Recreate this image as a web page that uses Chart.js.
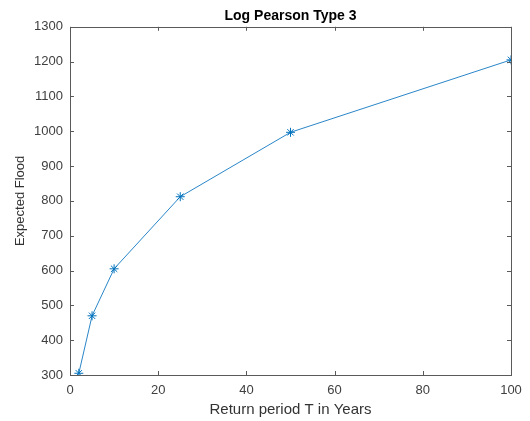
<!DOCTYPE html>
<html>
<head>
<meta charset="utf-8">
<script src="https://cdn.jsdelivr.net/npm/chart.js"></script>
<style>
  html, body { margin: 0; padding: 0; background: #fff; }
  #wrap { width: 530px; height: 421px; }
</style>
</head>
<body>
<div id="wrap"><canvas id="myChart" width="530" height="421"></canvas></div>

<script>
    // datos
    var returnPeriods = [2, 5, 10, 25, 50, 100];
    var expectedFlood = [305, 470, 605, 812, 997, 1205];
    var xTicks = [0, 20, 40, 60, 80, 100];
    var yTicks = [300, 400, 500, 600, 700, 800, 900, 1000, 1100, 1200, 1300];

    var points = returnPeriods.map(function(x, i) { return { x: x, y: expectedFlood[i] }; });

    // caja completa y marcas hacia dentro, estilo MATLAB
    var boxTicks = {
        id: 'boxTicks',
        afterDraw: function(chart) {
            var ctx = chart.ctx, a = chart.chartArea;
            var xs = chart.scales.x, ys = chart.scales.y;
            ctx.save();
            ctx.strokeStyle = '#5a5a5a';
            ctx.lineWidth = 1;
            ctx.strokeRect(Math.round(a.left) + 0.5, Math.round(a.top) + 0.5,
                Math.round(a.right - a.left), Math.round(a.bottom - a.top));
            ctx.beginPath();
            xTicks.forEach(function(v) {
                var px = Math.round(xs.getPixelForValue(v)) + 0.5;
                ctx.moveTo(px, a.bottom); ctx.lineTo(px, a.bottom - 4);
                ctx.moveTo(px, a.top); ctx.lineTo(px, a.top + 4);
            });
            yTicks.forEach(function(v) {
                var py = Math.round(ys.getPixelForValue(v)) + 0.5;
                ctx.moveTo(a.left, py); ctx.lineTo(a.left + 4, py);
                ctx.moveTo(a.right, py); ctx.lineTo(a.right - 4, py);
            });
            ctx.stroke();
            ctx.restore();
        }
    };

    var ctx = document.getElementById('myChart').getContext('2d');
    var myChart = new Chart(ctx, {
        type: 'line',
        data: {
            datasets: [{
                data: points,
                borderColor: '#2a86c8',
                borderWidth: 1,
                pointStyle: 'star',
                pointRadius: 4.5,
                pointBorderColor: '#0072BD',
                pointBorderWidth: 1,
                tension: 0
            }]
        },
        options: {
            responsive: false,
            animation: false,
            layout: { padding: { left: 0, right: 19, top: 0, bottom: 0 } },
            plugins: {
                legend: { display: false },
                tooltip: { enabled: false },
                title: {
                    display: true,
                    fullSize: false,
                    text: 'Log Pearson Type 3',
                    color: '#000',
                    font: { family: 'Liberation Sans, Arial', size: 14, weight: 'bold' },
                    padding: { top: 8, bottom: 2 }
                }
            },
            scales: {
                x: {
                    type: 'linear',
                    min: 0, max: 100,
                    afterBuildTicks: function(s) { s.ticks = xTicks.map(function(v) { return { value: v }; }); },
                    afterFit: function(s) { s.height = 46; },
                    grid: { display: false, drawTicks: false },
                    border: { display: false },
                    ticks: { color: '#404040', padding: 8, maxRotation: 0,
                        callback: function(v) { return String(v); },
                        font: { family: 'Liberation Sans, Arial', size: 13 } },
                    title: { display: true, text: 'Return period T in Years', color: '#333',
                        font: { family: 'Liberation Sans, Arial', size: 15 }, padding: { top: 2, bottom: 2 } }
                },
                y: {
                    type: 'linear',
                    min: 300, max: 1300,
                    afterBuildTicks: function(s) { s.ticks = yTicks.map(function(v) { return { value: v }; }); },
                    afterFit: function(s) { s.width = 70; },
                    grid: { display: false, drawTicks: false },
                    border: { display: false },
                    ticks: { color: '#404040', padding: 7,
                        callback: function(v) { return String(v); },
                        font: { family: 'Liberation Sans, Arial', size: 13 } },
                    title: { display: true, text: 'Expected Flood', color: '#333',
                        font: { family: 'Liberation Sans, Arial', size: 13 }, padding: { top: 13, bottom: 0 } }
                }
            }
        },
        plugins: [boxTicks]
    });
</script>
</body>
</html>
